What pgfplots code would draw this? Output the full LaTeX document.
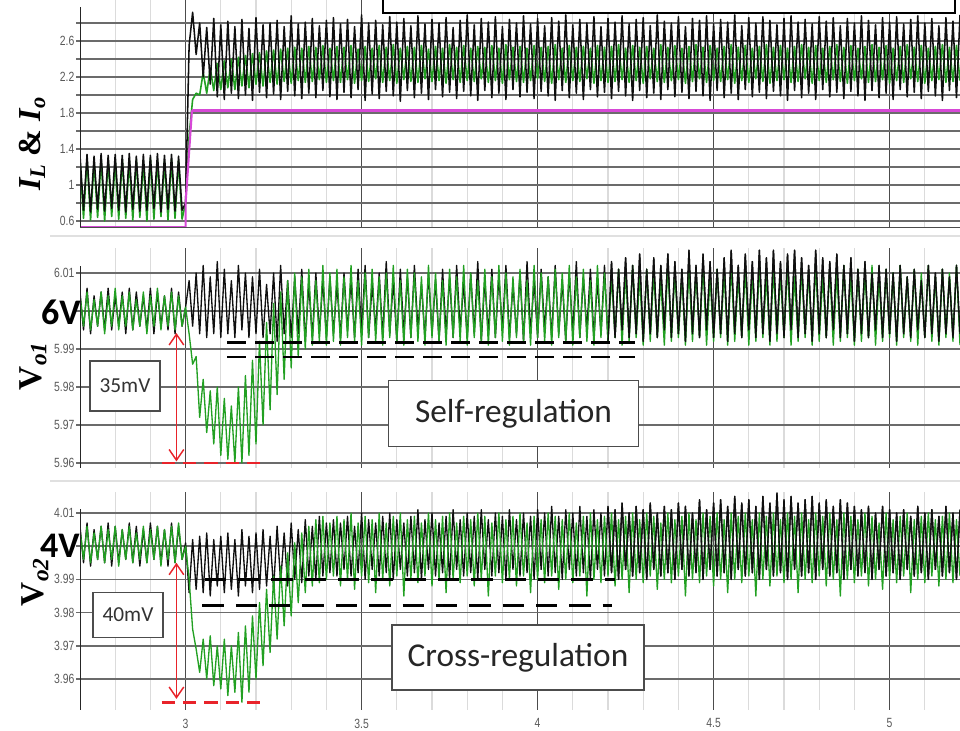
\documentclass[border=0pt]{standalone}
\usepackage{pgfplots}
\pgfplotsset{compat=1.18}
\usepackage{pgfplotstable}
\usetikzlibrary{arrows.meta}
\usepackage{fontspec}
\setmainfont{Liberation Serif}
\newfontfamily\tickfont[FakeStretch=0.78]{Liberation Sans}
\newfontfamily\calfont{Carlito}
\definecolor{wgreen}{RGB}{34,160,34}
\definecolor{wblack}{RGB}{15,15,15}
\definecolor{wmag}{RGB}{214,72,214}
\definecolor{wred}{RGB}{232,35,42}

\pgfplotstableread{
x tb tg mb mg bb bg
2.70 1.33 1.27 6.005 6.004 4.006 4.005
2.71 0.72 0.63 5.995 5.996 3.995 3.996
2.72 1.34 1.29 6.006 6.005 4.007 4.006
2.73 0.70 0.61 5.994 5.995 3.994 3.995
2.74 1.32 1.25 6.004 6.003 4.005 4.004
2.75 0.73 0.64 5.996 5.996 3.996 3.996
2.76 1.35 1.28 6.005 6.005 4.006 4.006
2.77 0.71 0.60 5.995 5.994 3.995 3.995
2.78 1.33 1.27 6.006 6.004 4.007 4.005
2.79 0.74 0.65 5.995 5.996 3.994 3.996
2.80 1.34 1.26 6.004 6.006 4.006 4.006
2.81 0.72 0.62 5.996 5.995 3.995 3.994
2.82 1.33 1.29 6.005 6.004 4.005 4.005
2.83 0.70 0.63 5.994 5.996 3.996 3.996
2.84 1.35 1.27 6.006 6.005 4.007 4.006
2.85 0.73 0.61 5.995 5.995 3.995 3.995
2.86 1.32 1.28 6.005 6.003 4.006 4.004
2.87 0.71 0.64 5.996 5.996 3.994 3.996
2.88 1.34 1.25 6.004 6.005 4.005 4.006
2.89 0.72 0.60 5.995 5.994 3.995 3.995
2.90 1.33 1.29 6.006 6.004 4.007 4.005
2.91 0.74 0.62 5.994 5.996 3.996 3.996
2.92 1.35 1.27 6.005 6.006 4.006 4.006
2.93 0.70 0.65 5.996 5.995 3.995 3.994
2.94 1.33 1.26 6.004 6.004 4.005 4.005
2.95 0.73 0.61 5.995 5.996 3.994 3.996
2.96 1.34 1.28 6.006 6.005 4.007 4.006
2.97 0.71 0.63 5.994 5.995 3.995 3.995
2.98 1.32 1.27 6.005 6.004 4.006 4.007
2.99 0.72 0.62 5.996 5.996 3.996 3.996
3.00 0.80 0.80 6.001 6.001 4.001 4.000
3.01 2.55 1.55 6.008 5.994 3.986 3.990
3.02 2.92 1.95 5.996 5.986 4.002 3.975
3.03 2.45 2.02 6.010 5.988 3.987 3.969
3.04 2.80 2.00 5.994 5.972 4.003 3.962
3.05 2.20 2.25 6.012 5.982 3.986 3.972
3.06 2.75 2.02 5.993 5.968 4.004 3.960
3.07 2.12 2.30 6.009 5.979 3.985 3.973
3.08 2.85 2.05 5.994 5.965 4.002 3.958
3.09 1.98 2.35 6.013 5.980 3.988 3.970
3.10 2.78 2.06 5.993 5.962 4.003 3.957
3.11 1.95 2.38 6.011 5.977 3.986 3.972
3.12 2.82 2.08 5.994 5.961 4.004 3.955
3.13 2.02 2.40 6.008 5.975 3.987 3.970
3.14 2.76 2.06 5.993 5.960 4.002 3.956
3.15 1.96 2.42 6.012 5.980 3.985 3.974
3.16 2.84 2.10 5.995 5.960 4.005 3.953
3.17 2.00 2.44 6.010 5.983 3.988 3.976
3.18 2.74 2.08 5.993 5.962 4.003 3.956
3.19 1.94 2.46 6.009 5.987 3.986 3.979
3.20 2.86 2.12 5.994 5.965 4.004 3.960
3.21 2.03 2.47 6.011 5.992 3.987 3.983
3.22 2.78 2.10 5.993 5.970 4.005 3.964
3.23 1.97 2.49 6.007 5.997 3.988 3.987
3.24 2.80 2.14 5.994 5.974 4.003 3.968
3.25 2.01 2.50 6.010 6.002 3.987 3.991
3.26 2.83 2.12 5.992 5.978 4.006 3.972
3.27 1.95 2.51 6.012 6.005 3.989 3.994
3.28 2.76 2.15 5.994 5.982 4.004 3.976
3.29 2.04 2.52 6.008 6.008 3.988 3.998
3.30 2.88 2.13 5.993 5.985 4.007 3.979
3.31 1.99 2.53 6.009 6.010 3.990 4.001
3.32 2.79 2.16 5.994 5.988 4.005 3.983
3.33 1.96 2.52 6.011 6.009 3.989 4.004
3.34 2.81 2.14 5.992 5.990 4.008 3.986
3.35 2.02 2.54 6.007 6.011 3.991 4.006
3.36 2.85 2.15 5.993 5.991 4.006 3.988
3.37 1.97 2.53 6.010 6.008 3.990 4.008
3.38 2.77 2.17 5.994 5.992 4.009 3.989
3.39 2.05 2.55 6.008 6.012 3.991 4.009
3.40 2.83 2.14 5.993 5.991 4.007 3.990
3.41 1.98 2.52 6.009 6.010 3.992 4.007
3.42 2.86 2.16 5.994 5.992 4.008 3.991
3.43 1.95 2.54 6.007 6.011 3.991 4.009
3.44 2.79 2.14 5.993 5.991 4.007 3.988
3.45 2.03 2.53 6.010 6.009 3.993 4.008
3.46 2.84 2.17 5.995 5.993 4.009 3.990
3.47 1.97 2.55 6.008 6.012 3.991 4.010
3.48 2.76 2.13 5.993 5.992 4.006 3.987
3.49 2.06 2.51 6.011 6.008 3.992 4.007
3.50 2.89 2.16 5.994 5.991 4.010 3.991
3.51 1.94 2.54 6.012 6.010 3.990 4.009
3.52 2.80 2.15 5.993 5.993 4.008 3.989
3.53 2.01 2.52 6.007 6.011 3.993 4.008
3.54 2.83 2.18 5.995 5.992 4.007 3.986
3.55 1.96 2.55 6.010 6.009 3.991 4.010
3.56 2.78 2.14 5.993 5.991 4.009 3.990
3.57 2.04 2.53 6.013 6.010 3.992 4.007
3.58 2.87 2.16 5.994 5.993 4.010 3.988
3.59 1.99 2.56 6.008 6.012 3.990 4.009
3.60 2.81 2.13 5.992 5.992 4.008 3.991
3.61 1.93 2.52 6.011 6.008 3.993 4.010
3.62 2.85 2.17 5.994 5.991 4.007 3.985
3.63 2.05 2.54 6.009 6.011 3.991 4.008
3.64 2.77 2.15 5.993 5.993 4.009 3.990
3.65 1.97 2.53 6.012 6.010 3.992 4.009
3.66 2.88 2.14 5.995 5.992 4.011 3.989
3.67 2.02 2.55 6.007 6.009 3.990 4.007
3.68 2.79 2.18 5.993 5.991 4.008 3.991
3.69 1.95 2.51 6.010 6.012 3.993 4.010
3.70 2.84 2.15 5.994 5.993 4.010 3.988
3.71 2.06 2.54 6.008 6.010 3.991 4.008
3.72 2.80 2.16 5.992 5.992 4.007 3.990
3.73 1.98 2.52 6.011 6.008 3.992 4.009
3.74 2.86 2.13 5.994 5.991 4.009 3.986
3.75 2.03 2.56 6.009 6.011 3.990 4.010
3.76 2.75 2.17 5.993 5.993 4.011 3.990
3.77 1.96 2.53 6.012 6.009 3.993 4.007
3.78 2.83 2.14 5.995 5.992 4.008 3.989
3.79 2.04 2.55 6.007 6.012 3.991 4.009
3.80 2.89 2.16 5.993 5.991 4.010 3.991
3.81 1.99 2.52 6.010 6.010 3.992 4.008
3.82 2.78 2.15 5.994 5.993 4.009 3.988
3.83 1.94 2.54 6.013 6.008 3.990 4.010
3.84 2.85 2.18 5.992 5.992 4.011 3.990
3.85 2.05 2.53 6.008 6.011 3.993 4.009
3.86 2.81 2.14 5.994 5.991 4.008 3.985
3.87 1.97 2.55 6.011 6.009 3.991 4.007
3.88 2.87 2.16 5.993 5.993 4.010 3.991
3.89 2.02 2.52 6.009 6.012 3.992 4.010
3.90 2.76 2.13 5.995 5.992 4.009 3.989
3.91 1.95 2.56 6.012 6.010 3.990 4.008
3.92 2.84 2.17 5.993 5.991 4.011 3.990
3.93 2.06 2.53 6.007 6.009 3.993 4.009
3.94 2.80 2.15 5.994 5.993 4.008 3.988
3.95 1.98 2.54 6.010 6.011 3.991 4.010
3.96 2.88 2.14 5.992 5.992 4.010 3.991
3.97 2.03 2.52 6.013 6.008 3.992 4.007
3.98 2.79 2.16 5.994 5.991 4.009 3.986
3.99 1.96 2.55 6.008 6.012 3.990 4.009
4.00 2.85 2.18 5.993 5.993 4.011 3.990
4.01 2.04 2.53 6.011 6.010 3.993 4.008
4.02 2.77 2.15 5.995 5.992 4.010 3.989
4.03 1.99 2.54 6.009 6.009 3.991 4.010
4.04 2.86 2.13 5.993 5.991 4.012 3.991
4.05 1.94 2.56 6.012 6.011 3.992 4.009
4.06 2.82 2.17 5.994 5.993 4.009 3.987
4.07 2.05 2.52 6.008 6.010 3.990 4.008
4.08 2.89 2.14 5.992 5.992 4.011 3.990
4.09 1.97 2.55 6.010 6.012 3.993 4.010
4.10 2.78 2.16 5.994 5.991 4.010 3.989
4.11 2.02 2.53 6.013 6.009 3.991 4.007
4.12 2.84 2.15 5.993 5.993 4.012 3.991
4.13 1.95 2.54 6.009 6.011 3.992 4.009
4.14 2.80 2.18 5.995 5.992 4.009 3.985
4.15 2.06 2.52 6.011 6.008 3.990 4.010
4.16 2.87 2.13 5.993 5.991 4.011 3.990
4.17 1.98 2.55 6.008 6.012 3.993 4.008
4.18 2.76 2.16 5.994 5.993 4.010 3.989
4.19 2.03 2.53 6.012 6.010 3.991 4.009
4.20 2.85 2.14 5.992 5.992 4.012 3.991
4.21 1.96 2.54 6.013 6.009 3.992 4.010
4.22 2.81 2.15 5.993 5.993 4.011 3.988
4.23 2.04 2.56 6.011 6.011 3.990 4.008
4.24 2.88 2.17 5.995 5.991 4.013 3.990
4.25 1.99 2.52 6.014 6.010 3.993 4.009
4.26 2.79 2.14 5.993 5.992 4.010 3.986
4.27 1.94 2.55 6.012 6.012 3.991 4.010
4.28 2.84 2.16 5.994 5.993 4.012 3.990
4.29 2.05 2.53 6.015 6.009 3.992 4.008
4.30 2.86 2.13 5.992 5.991 4.011 3.989
4.31 1.97 2.54 6.011 6.011 3.990 4.010
4.32 2.77 2.18 5.994 5.992 4.013 3.991
4.33 2.02 2.52 6.014 6.010 3.993 4.009
4.34 2.89 2.15 5.993 5.993 4.010 3.987
4.35 1.95 2.56 6.012 6.008 3.991 4.007
4.36 2.82 2.14 5.995 5.991 4.012 3.990
4.37 2.06 2.53 6.015 6.012 3.992 4.010
4.38 2.80 2.16 5.993 5.992 4.011 3.989
4.39 1.98 2.55 6.013 6.010 3.990 4.008
4.40 2.87 2.17 5.994 5.993 4.013 3.991
4.41 2.03 2.52 6.011 6.009 3.993 4.009
4.42 2.76 2.13 5.992 5.991 4.012 3.985
4.43 1.96 2.54 6.016 6.011 3.991 4.010
4.44 2.85 2.15 5.994 5.992 4.010 3.990
4.45 2.04 2.56 6.012 6.010 3.992 4.008
4.46 2.83 2.18 5.993 5.993 4.014 3.989
4.47 1.99 2.53 6.015 6.012 3.990 4.010
4.48 2.88 2.14 5.995 5.991 4.011 3.991
4.49 1.94 2.55 6.013 6.009 3.993 4.009
4.50 2.79 2.16 5.993 5.992 4.013 3.988
4.51 2.05 2.52 6.011 6.011 3.991 4.010
4.52 2.84 2.15 5.994 5.993 4.014 3.990
4.53 1.97 2.54 6.014 6.010 3.992 4.008
4.54 2.81 2.17 5.992 5.991 4.012 3.986
4.55 2.02 2.56 6.016 6.012 3.990 4.010
4.56 2.89 2.13 5.994 5.992 4.015 3.990
4.57 1.95 2.53 6.012 6.009 3.993 4.009
4.58 2.77 2.16 5.993 5.993 4.013 3.989
4.59 2.06 2.55 6.015 6.011 3.991 4.010
4.60 2.86 2.14 5.995 5.991 4.014 3.991
4.61 1.98 2.52 6.013 6.010 3.992 4.008
4.62 2.80 2.18 5.993 5.992 4.012 3.985
4.63 2.03 2.54 6.016 6.012 3.990 4.010
4.64 2.87 2.15 5.994 5.993 4.015 3.990
4.65 1.96 2.56 6.014 6.009 3.993 4.009
4.66 2.83 2.13 5.992 5.991 4.013 3.988
4.67 2.04 2.53 6.016 6.011 3.991 4.010
4.68 2.78 2.16 5.994 5.992 4.016 3.991
4.69 1.99 2.55 6.013 6.010 3.992 4.008
4.70 2.85 2.17 5.993 5.993 4.014 3.989
4.71 1.94 2.52 6.015 6.012 3.990 4.010
4.72 2.88 2.14 5.995 5.991 4.015 3.990
4.73 2.05 2.54 6.016 6.009 3.993 4.009
4.74 2.81 2.15 5.993 5.992 4.013 3.986
4.75 1.97 2.56 6.014 6.011 3.991 4.010
4.76 2.84 2.18 5.994 5.993 4.014 3.990
4.77 2.02 2.53 6.012 6.010 3.992 4.008
4.78 2.79 2.13 5.992 5.991 4.015 3.989
4.79 1.95 2.55 6.016 6.012 3.990 4.010
4.80 2.87 2.16 5.994 5.992 4.013 3.991
4.81 2.06 2.52 6.014 6.009 3.993 4.009
4.82 2.82 2.14 5.993 5.993 4.014 3.988
4.83 1.98 2.54 6.013 6.011 3.991 4.010
4.84 2.86 2.17 5.995 5.991 4.012 3.990
4.85 2.03 2.56 6.015 6.010 3.992 4.008
4.86 2.77 2.15 5.993 5.992 4.014 3.985
4.87 1.96 2.53 6.012 6.012 3.990 4.010
4.88 2.85 2.13 5.994 5.993 4.013 3.990
4.89 2.04 2.55 6.014 6.009 3.993 4.009
4.90 2.80 2.16 5.992 5.991 4.012 3.989
4.91 1.99 2.52 6.011 6.011 3.991 4.008
4.92 2.88 2.18 5.994 5.992 4.011 3.991
4.93 1.94 2.54 6.013 6.010 3.992 4.010
4.94 2.83 2.14 5.993 5.993 4.012 3.988
4.95 2.05 2.56 6.010 6.012 3.990 4.009
4.96 2.78 2.15 5.995 5.991 4.010 3.990
4.97 1.97 2.53 6.012 6.009 3.993 4.007
4.98 2.86 2.17 5.993 5.992 4.012 3.987
4.99 2.02 2.55 6.011 6.011 3.991 4.010
5.00 2.81 2.13 5.994 5.993 4.011 3.990
5.01 1.95 2.52 6.010 6.010 3.992 4.008
5.02 2.87 2.16 5.992 5.991 4.010 3.989
5.03 2.06 2.54 6.012 6.012 3.990 4.009
5.04 2.79 2.14 5.994 5.993 4.011 3.991
5.05 1.98 2.56 6.009 6.009 3.993 4.010
5.06 2.84 2.18 5.993 5.992 4.009 3.986
5.07 2.03 2.53 6.011 6.011 3.991 4.008
5.08 2.88 2.15 5.995 5.991 4.012 3.990
5.09 1.96 2.55 6.008 6.010 3.992 4.009
5.10 2.80 2.13 5.993 5.993 4.010 3.989
5.11 2.04 2.52 6.012 6.012 3.990 4.010
5.12 2.85 2.16 5.994 5.992 4.011 3.991
5.13 1.99 2.54 6.010 6.009 3.993 4.008
5.14 2.77 2.17 5.992 5.991 4.009 3.988
5.15 1.94 2.56 6.011 6.011 3.991 4.009
5.16 2.86 2.14 5.994 5.993 4.012 3.990
5.17 2.05 2.53 6.009 6.010 3.992 4.010
5.18 2.82 2.15 5.993 5.992 4.010 3.989
5.19 1.97 2.55 6.012 6.012 3.990 4.008
5.20 2.89 2.16 5.994 5.991 4.011 3.991
}\data

\pgfplotsset{panel/.style={
  scale only axis, width=660pt, xmin=2.7, xmax=5.2,
  axis line style={draw=none},
  xtick={3,3.5,4,4.5,5},
  minor xtick={2.8,2.9,3.1,3.2,3.3,3.4,3.6,3.7,3.8,3.9,4.1,4.2,4.3,4.4,4.6,4.7,4.8,4.9,5.1},
  xmajorgrids, xminorgrids, ymajorgrids, yminorgrids,
  major x grid style={draw=black!70, line width=0.9pt},
  minor x grid style={draw=black!14, line width=0.9pt},
  major y grid style={draw=black!58, line width=1.3pt},
  minor y grid style={draw=black!58, line width=1.3pt},
  xtick style={draw=none},
  ytick style={draw=black!58, line width=1.3pt},
  tick align=outside, major tick length=3pt, minor tick length=3pt,
  yticklabel style={font=\tickfont\fontsize{10}{10}\selectfont, text=black!65, inner sep=1pt},
  xticklabel style={font=\tickfont\fontsize{10}{10}\selectfont, text=black!65},
  every axis plot/.append style={line join=round, line width=1pt},
}}

\begin{document}
\begin{tikzpicture}
\useasboundingbox (0,0) rectangle (720pt,548.25pt);
% separators
\draw[black!12, line width=2pt] (37.5pt,371.25pt) -- (720pt,371.25pt);
\draw[black!12, line width=2pt] (37.5pt,187.5pt) -- (720pt,187.5pt);

% top panel
\begin{axis}[panel, at={(60pt,377.25pt)}, anchor=south west, height=171pt,
  ymin=0.5222, ymax=3.0556,
  ytick={0.6,1.0,1.4,1.8,2.2,2.6}, yticklabels={0.6,1,1.4,1.8,2.2,2.6},
  minor ytick={0.8,1.2,1.6,2.0,2.4,2.8},
  xticklabels={}]
\addplot[wgreen, line width=1.2pt] table[x=x,y=tg]{\data};
\addplot[wblack, line width=1.15pt] table[x=x,y=tb]{\data};
\addplot[wmag, line width=1.6pt] coordinates {(2.7,0.53) (3.0,0.53) (3.0,0.8) (3.018,1.83)};
\addplot[wmag, line width=2.4pt] coordinates {(3.018,1.83) (5.2,1.83)};
\draw[black!85, line width=1pt] (rel axis cs:0,0) -- (rel axis cs:0,0.97);
\draw[black!70, line width=1.2pt] (rel axis cs:0,0) -- (rel axis cs:1,0);
\end{axis}

% middle panel
\begin{axis}[panel, at={(60pt,197.25pt)}, anchor=south west, height=165pt,
  ymin=5.95868, ymax=6.01658,
  ytick={5.96,5.97,5.98,5.99,6.00,6.01}, yticklabels={5.96,5.97,5.98,5.99,{},6.01},
  xticklabels={}]
\addplot[wblack] table[x=x,y=mb]{\data};
\addplot[wgreen] table[x=x,y=mg]{\data};
\addplot[wblack, restrict x to domain=4.2:5.2] table[x=x,y=mb]{\data};
\draw[black!85, line width=1pt] (rel axis cs:0,0) -- (rel axis cs:0,0.92);
\draw[black, line width=2.2pt, dash pattern=on 14pt off 7pt] (axis cs:3.119,5.9916) -- (axis cs:4.278,5.9916);
\draw[black, line width=2.2pt, dash pattern=on 14pt off 7pt] (axis cs:3.119,5.9879) -- (axis cs:4.278,5.9879);
\draw[wred, line width=2.2pt, dash pattern=on 10pt off 6pt] (axis cs:2.932,5.9600) -- (axis cs:3.216,5.9600);
\draw[wred, line width=1.1pt, {Straight Barb[length=8pt,width=11pt]}-{Straight Barb[length=8pt,width=11pt]}] (axis cs:2.974,5.9942) -- (axis cs:2.974,5.9604);
\end{axis}

% bottom panel
\begin{axis}[panel, at={(60pt,15.75pt)}, anchor=south west, height=163.5pt,
  ymin=3.95066, ymax=4.01633,
  ytick={3.96,3.97,3.98,3.99,4.00,4.01}, yticklabels={3.96,3.97,3.98,3.99,{},4.01},
  xticklabels={3,3.5,4,4.5,5}]
\addplot[wblack] table[x=x,y=bb]{\data};
\addplot[wgreen] table[x=x,y=bg]{\data};
\addplot[wblack, restrict x to domain=4.2:5.2] table[x=x,y=bb]{\data};
\draw[black!85, line width=1pt] (rel axis cs:0,0) -- (rel axis cs:0,0.92);
\draw[black, line width=2.2pt, dash pattern=on 16pt off 9pt] (axis cs:3.054,3.9900) -- (axis cs:4.219,3.9900);
\draw[black, line width=2.2pt, dash pattern=on 16pt off 9pt] (axis cs:3.048,3.9822) -- (axis cs:4.210,3.9822);
\draw[wred, line width=2.2pt, dash pattern=on 10pt off 6pt] (axis cs:2.932,3.9530) -- (axis cs:3.216,3.9530);
\draw[wred, line width=1.1pt, {Straight Barb[length=8pt,width=11pt]}-{Straight Barb[length=8pt,width=11pt]}] (axis cs:2.974,3.9950) -- (axis cs:2.974,3.9540);
\end{axis}

\begin{scope}[x=0.75pt, y=0.75pt]
% top box
\draw[black, fill=white, line width=0.8pt] (383,718) rectangle (955,740);
% axis labels
\node[rotate=90, font=\fontsize{24}{24}\selectfont\bfseries] at (32,587)
  {\itshape I\textsubscript{L}\upshape\ \& \itshape I\textsubscript{o}};
\node[rotate=90, font=\fontsize{25}{25}\selectfont\bfseries] at (33,365)
  {V\textsubscript{\itshape o1}};
\node[rotate=90, font=\fontsize{25}{25}\selectfont\bfseries] at (35,149)
  {V\textsubscript{\itshape o2}};
% level labels
\node[font=\calfont\fontsize{27}{27}\selectfont\bfseries] at (61,419) {6V};
\node[font=\calfont\fontsize{27}{27}\selectfont\bfseries] at (60,185) {4V};
% boxes
\node[draw=black!70, fill=white, line width=0.8pt, minimum width=52.5pt, minimum height=37.5pt, inner sep=0pt,
  text=black!80, font=\calfont\fontsize{16}{16}\selectfont] at (125,345) {35mV};
\node[draw=black!70, fill=white, line width=0.8pt, minimum width=52.5pt, minimum height=33.75pt, inner sep=0pt,
  text=black!80, font=\calfont\fontsize{16}{16}\selectfont] at (128,116) {40mV};
\node[draw=black!70, fill=white, line width=0.8pt, minimum width=188pt, minimum height=50pt, inner sep=0pt,
  text=black!85, font=\calfont\fontsize{25}{25}\selectfont] at (513.5,317.5) {Self-regulation};
\node[draw=black!70, fill=white, line width=0.8pt, minimum width=189pt, minimum height=48.75pt, inner sep=0pt,
  text=black!85, font=\calfont\fontsize{25}{25}\selectfont] at (518,73.5) {Cross-regulation};
\end{scope}
\end{tikzpicture}
\end{document}
